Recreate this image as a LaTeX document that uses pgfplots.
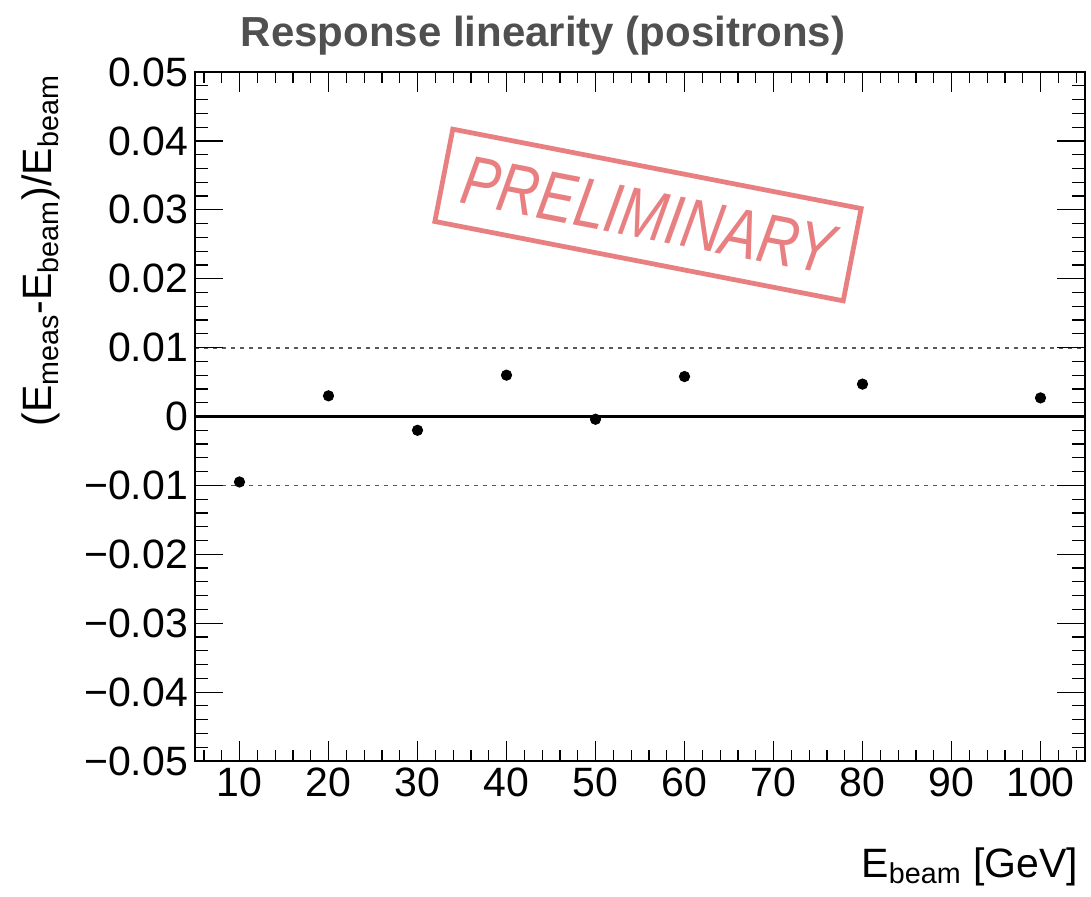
\documentclass[border=0pt]{standalone}
\usepackage{fontspec}
\setmainfont{Liberation Sans}
\usepackage{pgfplots}
\usepackage{pgfplotstable}
\pgfplotsset{compat=1.18}
\definecolor{stamp}{RGB}{232,128,130}
\definecolor{titlegray}{RGB}{80,80,80}
\newcommand{\lbl}{\fontsize{20.5pt}{24pt}\selectfont}

% relative response (E_meas - E_beam)/E_beam per beam energy
\pgfplotstableread{
E d
10 -0.0095
20 0.0030
30 -0.0020
40 0.0060
50 -0.0004
60 0.0058
80 0.0047
100 0.0027
}\linearity

\pgfplotsset{rootbox/.style={
  scale only axis, width=445pt, height=344.5pt,
  xmin=5, xmax=105, ymin=-0.05, ymax=0.05,
  scaled x ticks=false, scaled y ticks=false,
  axis line style={line width=0.6pt},
  tick align=inside,
  tick style={black, line width=0.6pt},
  xtick pos=both, ytick pos=both,
  xticklabel pos=bottom, yticklabel pos=left,
}}

\begin{document}
\begin{tikzpicture}
\useasboundingbox (-97.5pt,-67.5pt) rectangle (448pt,380.5pt);

% x ticks and the data
\begin{axis}[rootbox,
  xtick={10,20,30,40,50,60,70,80,90,100},
  xticklabels={10,20,30,40,50,60,70,80,90,100},
  minor xtick={6,8,...,104},
  ytick=\empty,
  major tick length=10pt, minor tick length=5.5pt,
  xticklabel style={font=\lbl},
]
\addplot[black!65, line width=0.9pt, dash pattern=on 2pt off 2.5pt] coordinates {(5,0.01) (105,0.01)};
\addplot[black!65, line width=0.9pt, dash pattern=on 2pt off 2.5pt] coordinates {(5,-0.01) (105,-0.01)};
\addplot[black, line width=1.3pt] coordinates {(5,0) (105,0)};
\addplot[only marks, mark=*, mark size=2.6pt, black] table[x=E, y=d] {\linearity};
\end{axis}

% y ticks (longer, like ROOT)
\begin{axis}[rootbox,
  xtick=\empty,
  ytick={-0.05,-0.04,-0.03,-0.02,-0.01,0,0.01,0.02,0.03,0.04,0.05},
  yticklabels={−0.05,−0.04,−0.03,−0.02,−0.01,0,0.01,0.02,0.03,0.04,0.05},
  minor ytick={-0.048,-0.046,...,0.048},
  major tick length=14pt, minor tick length=6.5pt,
  yticklabel style={font=\lbl},
]
\end{axis}

\node[font=\fontsize{21pt}{25pt}\selectfont\bfseries, text=titlegray, anchor=base]
  at (174pt,357pt) {Response linearity (positrons)};
\node[rotate=90, anchor=base east, font=\lbl] at (-71.5pt,346.5pt)
  {(E\textsubscript{meas}-E\textsubscript{beam})/E\textsubscript{beam}};
\node[anchor=base east, font=\lbl] at (445pt,-58pt) {E\textsubscript{beam} [GeV]};

% stamp
\begin{scope}[shift={(226.5pt,273pt)}, rotate=-11]
  \draw[stamp, line width=2.4pt] (-104pt,-23.5pt) rectangle (104pt,23.5pt);
  \node[transform shape, text=stamp, font=\fontsize{35pt}{35pt}\selectfont\itshape, xscale=0.8]
    at (0,0) {PRELIMINARY};
\end{scope}
\end{tikzpicture}
\end{document}
